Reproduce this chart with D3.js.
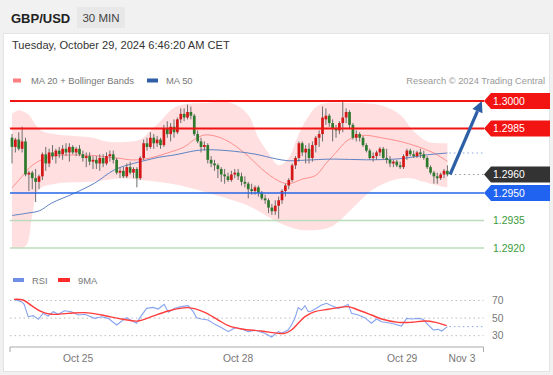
<!DOCTYPE html>
<html>
<head>
<meta charset="utf-8">
<script src="https://cdn.jsdelivr.net/npm/d3@7"></script>
<style>
  body { margin: 0; background: #f0f0f0; }
  svg { display: block; font-family: "Liberation Sans", Arial, sans-serif; }
</style>
</head>
<body>
<script>
// 30 min GBP/USD candles, [open, high, low, close]
const candles = [
  [1.2980,1.2982,1.2966,1.2975],[1.2975,1.2980,1.2972,1.2979],[1.2979,1.2983,1.2973,1.2974],[1.2974,1.2986,1.2972,1.2978],
  [1.2978,1.2980,1.2959,1.2960],[1.2960,1.2962,1.2951,1.2961],[1.2961,1.2962,1.2952,1.2958],[1.2958,1.2963,1.2945,1.2956],
  [1.2956,1.2960,1.2952,1.2959],[1.2959,1.2972,1.2957,1.2971],[1.2971,1.2975,1.2962,1.2966],[1.2966,1.2974,1.2964,1.2972],
  [1.2972,1.2976,1.2968,1.2970],[1.2970,1.2974,1.2966,1.2973],[1.2973,1.2975,1.2969,1.2971],[1.2971,1.2976,1.2968,1.2974],
  [1.2974,1.2977,1.2970,1.2972],[1.2972,1.2977,1.2967,1.2975],[1.2975,1.2976,1.2971,1.2972],[1.2972,1.2975,1.2970,1.2974],
  [1.2974,1.2976,1.2970,1.2971],[1.2971,1.2973,1.2967,1.2969],[1.2969,1.2972,1.2964,1.2970],[1.2970,1.2972,1.2965,1.2967],
  [1.2967,1.2970,1.2963,1.2968],[1.2968,1.2970,1.2963,1.2966],[1.2966,1.2971,1.2962,1.2969],[1.2969,1.2971,1.2964,1.2966],
  [1.2966,1.2972,1.2965,1.2970],[1.2970,1.2973,1.2967,1.2971],[1.2971,1.2973,1.2966,1.2968],[1.2968,1.2969,1.2960,1.2961],
  [1.2961,1.2964,1.2958,1.2962],[1.2962,1.2964,1.2958,1.2959],[1.2959,1.2966,1.2958,1.2964],[1.2964,1.2967,1.2960,1.2961],
  [1.2961,1.2964,1.2958,1.2963],[1.2963,1.2964,1.2953,1.2958],[1.2958,1.2970,1.2957,1.2969],[1.2969,1.2979,1.2968,1.2977],
  [1.2977,1.2980,1.2973,1.2975],[1.2975,1.2983,1.2974,1.2980],[1.2980,1.2982,1.2974,1.2977],[1.2977,1.2981,1.2975,1.2979],
  [1.2979,1.2980,1.2974,1.2976],[1.2976,1.2987,1.2975,1.2985],[1.2985,1.2989,1.2980,1.2982],[1.2982,1.2988,1.2978,1.2986],
  [1.2986,1.2990,1.2980,1.2983],[1.2983,1.2991,1.2982,1.2990],[1.2990,1.2996,1.2988,1.2993],[1.2993,1.2996,1.2989,1.2991],
  [1.2991,1.2998,1.2990,1.2994],[1.2994,1.2997,1.2990,1.2992],[1.2992,1.2993,1.2981,1.2982],[1.2982,1.2984,1.2977,1.2978],
  [1.2978,1.2980,1.2972,1.2975],[1.2975,1.2978,1.2973,1.2976],[1.2976,1.2977,1.2966,1.2968],[1.2968,1.2970,1.2964,1.2966],
  [1.2966,1.2968,1.2962,1.2965],[1.2965,1.2966,1.2958,1.2963],[1.2963,1.2964,1.2956,1.2960],[1.2960,1.2963,1.2955,1.2959],
  [1.2959,1.2961,1.2956,1.2957],[1.2957,1.2962,1.2956,1.2960],[1.2960,1.2963,1.2958,1.2961],[1.2961,1.2963,1.2957,1.2959],
  [1.2959,1.2961,1.2954,1.2956],[1.2956,1.2959,1.2953,1.2955],[1.2955,1.2956,1.2947,1.2952],[1.2952,1.2955,1.2949,1.2951],
  [1.2951,1.2954,1.2949,1.2953],[1.2953,1.2954,1.2948,1.2950],[1.2950,1.2951,1.2946,1.2947],[1.2947,1.2949,1.2944,1.2946],
  [1.2946,1.2947,1.2939,1.2942],[1.2942,1.2944,1.2938,1.2940],[1.2940,1.2946,1.2938,1.2943],[1.2943,1.2948,1.2936,1.2946],
  [1.2946,1.2952,1.2944,1.2951],[1.2951,1.2955,1.2948,1.2954],[1.2954,1.2958,1.2952,1.2957],[1.2957,1.2966,1.2956,1.2965],
  [1.2965,1.2970,1.2963,1.2969],[1.2969,1.2978,1.2967,1.2977],[1.2977,1.2978,1.2970,1.2972],[1.2972,1.2976,1.2966,1.2974],
  [1.2974,1.2977,1.2966,1.2969],[1.2969,1.2978,1.2967,1.2976],[1.2976,1.2981,1.2972,1.2980],[1.2980,1.2984,1.2975,1.2982],
  [1.2982,1.2997,1.2978,1.2991],[1.2990,1.2996,1.2987,1.2992],[1.2992,1.2993,1.2986,1.2988],[1.2988,1.2990,1.2978,1.2985],
  [1.2985,1.2987,1.2980,1.2984],[1.2984,1.2989,1.2982,1.2988],[1.2988,1.3000,1.2983,1.2991],[1.2991,1.2996,1.2988,1.2994],
  [1.2994,1.2995,1.2985,1.2987],[1.2987,1.2988,1.2979,1.2980],[1.2980,1.2984,1.2978,1.2982],[1.2982,1.2983,1.2978,1.2980],
  [1.2980,1.2981,1.2975,1.2976],[1.2976,1.2977,1.2972,1.2973],[1.2973,1.2974,1.2968,1.2969],[1.2969,1.2972,1.2967,1.2970],
  [1.2970,1.2973,1.2968,1.2972],[1.2972,1.2975,1.2970,1.2974],[1.2974,1.2975,1.2968,1.2969],[1.2969,1.2974,1.2966,1.2968],
  [1.2968,1.2970,1.2964,1.2966],[1.2966,1.2968,1.2964,1.2967],[1.2967,1.2968,1.2964,1.2965],[1.2965,1.2967,1.2963,1.2964],
  [1.2964,1.2971,1.2963,1.2970],[1.2970,1.2974,1.2968,1.2973],[1.2973,1.2974,1.2970,1.2971],[1.2971,1.2973,1.2969,1.2970],
  [1.2970,1.2973,1.2969,1.2972],[1.2972,1.2974,1.2969,1.2971],[1.2971,1.2973,1.2968,1.2969],[1.2969,1.2970,1.2963,1.2964],
  [1.2964,1.2965,1.2960,1.2961],[1.2961,1.2962,1.2955,1.2959],[1.2959,1.2961,1.2955,1.2958],[1.2958,1.2961,1.2957,1.2960],
  [1.2960,1.2963,1.2958,1.2962],[1.2962,1.2965,1.2959,1.2960]
]

// indicators, [candle index, value]
const ma20 = [[0,1.29527],[3,1.29590],[6,1.29650],[11,1.29695],[21,1.29706],[31,1.29690],[36,1.29679],[41,1.29690],
  [46,1.29717],[51,1.29750],[54,1.29790],[57,1.29815],[61,1.29805],[65,1.29770],[70,1.29700],[74,1.29630],[79,1.29565],
  [82,1.29550],[86,1.29575],[90,1.29595],[93,1.29660],[96,1.29720],[99,1.29780],[102,1.29807],[105,1.29813],[110,1.29798],
  [115,1.29780],[120,1.29753],[125,1.29717],[129,1.29671]]
const ma50 = [[0,1.29377],[4.7,1.29390],[8.2,1.29403],[11.7,1.29444],[18.6,1.29499],[24.5,1.29553],[30.4,1.29626],
  [36.3,1.29662],[40.3,1.29680],[43.3,1.29693],[48.3,1.29707],[54.2,1.29729],[58,1.29735],[66,1.29726],[72,1.29711],
  [78,1.29686],[81.8,1.29675],[86.8,1.29678],[95.2,1.29684],[105,1.29680],[115,1.29686],[123,1.29707],[129,1.29717]]
const bbUpper = [[0,1.29930],[2,1.29950],[5,1.29925],[7,1.29870],[9,1.29835],[14,1.29816],[24,1.29800],[28,1.29780],
  [33,1.29776],[38,1.29790],[41,1.29840],[44,1.29890],[47,1.29950],[50,1.29978],[57,1.29989],[65,1.29989],[70,1.29924],
  [73,1.29800],[76,1.29717],[79,1.29650],[82,1.29690],[84.5,1.29800],[87.5,1.29907],[91,1.29978],[99,1.29989],
  [109,1.29978],[115,1.29925],[119,1.29835],[123,1.29780],[127,1.29770],[129,1.29770]]
const bbLower = [[0,1.29200],[4,1.29210],[6,1.29380],[8,1.29520],[13,1.29550],[23,1.29560],[33,1.29580],[38,1.29570],
  [43,1.29560],[50,1.29540],[60,1.29490],[70,1.29430],[75,1.29380],[80,1.29330],[85,1.29300],[91,1.29300],[95,1.29320],
  [100,1.29400],[105,1.29490],[108,1.29530],[113,1.29570],[118,1.29580],[122,1.29560],[126,1.29540],[129,1.29530]]

const rsi = [[0.6,71.3],[2.8,68.7],[3.6,65.6],[4.8,51.6],[6.3,52.8],[7.8,48.6],[9.2,55.4],[10.7,52.4],[12.2,57.3],
  [13.7,54.3],[15.6,58.4],[17.6,57.3],[19.6,53.5],[21.6,54.3],[24.5,49.7],[26.5,51.6],[28.5,49.7],[31,42.2],[33.9,50.5],
  [36.9,44.1],[37.9,50.5],[39.9,61.1],[41.8,62.2],[43.3,60.3],[45.1,65.6],[46.3,56.6],[48.2,61.1],[50.2,63],[52.2,64.1],
  [53.7,57.3],[54.7,50.5],[56.1,49],[58.1,47.8],[60.1,42.9],[62.1,39.1],[64.1,34.6],[66.1,39.1],[68,37.6],[70,34.6],
  [72,36.1],[74.9,32.7],[76.9,28.5],[78.9,34.6],[79.9,32.7],[81.8,36.5],[82.8,42.2],[83.8,49.7],[84.8,61.9],[85.8,59.2],
  [86.8,64.1],[87.8,57.3],[88.7,58.1],[90.2,61.1],[91.7,64.9],[93.2,66.8],[94.7,64.1],[96.7,61.1],[98.1,63],[99.6,65.6],
  [100.6,55.4],[102.6,53.5],[104.5,50.5],[106.5,44.1],[108,49],[109.5,45.9],[112.4,44.1],[115.4,41],[116.9,49.7],
  [118.4,49],[120.4,49.7],[121.8,48.6],[123.3,42.2],[124.8,36.5],[126.3,37.2],[127.3,35.3],[129,40.3]]
const rsiMa = [[0.6,71.3],[3.3,70.6],[5.8,64.1],[8.7,57.3],[11.7,54.3],[16.6,55.4],[21.6,56.2],[26.5,53.5],[32.4,49],
  [37.4,46.7],[41.3,51.6],[46.3,58.1],[52.2,61.9],[57.1,56.6],[61.1,47.8],[64.1,41.4],[68,37.6],[73.9,35.3],[78.9,32.7],
  [80.8,32.7],[82.8,36.5],[84.8,44.1],[86.8,51.6],[89.7,57.3],[93.7,60],[99.6,63],[102.6,59.2],[106.5,53.5],[109.5,49],
  [114.4,45.2],[118.4,45.2],[122.3,46.7],[125.5,45.2],[128.8,41.4]]

// key levels from the analysis
const levels = [1.3000, 1.2985, 1.2960, 1.2950, 1.2935, 1.2920]
const levelKinds = ['res', 'res', 'last', 'sup', 'target', 'target']
const rsiTicks = [70, 50, 30]
const dateTicks = ['Oct 25', 'Oct 28', 'Oct 29', 'Nov 3']
const dateTickIdx = [19.6, 67, 115.6, 133.3]
// forecast arrow: from last candle to the 1.3000 target
const arrowFrom = [129.8, 1.2960]
const arrowTo = [139.2, 1.3000]

const W = 553, H = 375
const svg = d3.select('body').append('svg').attr('width', W).attr('height', H)

svg.append('rect').attr('width', W).attr('height', H).attr('fill', '#f1f1f1')
svg.append('rect').attr('x', 3.5).attr('y', 33.5).attr('width', 546).attr('height', 338)
  .attr('fill', '#fff').attr('stroke', '#e4e4e4')

/* header */
svg.append('text').attr('x', 11).attr('y', 22.5).text('GBP/USD')
  .attr('font-size', 13).attr('font-weight', 'bold').attr('fill', '#222')
svg.append('rect').attr('x', 77).attr('y', 7).attr('width', 48).attr('height', 21).attr('fill', '#e8e8e8')
svg.append('text').attr('x', 101).attr('y', 21.5).attr('text-anchor', 'middle').text('30 MIN')
  .attr('font-size', 11.5).attr('fill', '#444')
svg.append('text').attr('x', 12).attr('y', 48.5).text('Tuesday, October 29, 2024 6:46:20 AM CET')
  .attr('font-size', 11.1).attr('fill', '#333')

/* legends */
function legendItem (x, y, w, color, label) {
  svg.append('rect').attr('x', x).attr('y', y - 5.5).attr('width', w).attr('height', 4).attr('fill', color)
  svg.append('text').attr('x', x + w + 10 - (w > 9 ? 2 : 0)).attr('y', y).text(label)
    .attr('font-size', 9.4).attr('fill', '#777')
}
legendItem(13, 84, 8, '#ff7f7f', 'MA 20 + Bollinger Bands')
legendItem(147, 84, 11, '#2f5ea6', 'MA 50')
svg.append('text').attr('x', 545).attr('y', 84).attr('text-anchor', 'end')
  .text('Research \u00a9 2024 Trading Central').attr('font-size', 9.3).attr('fill', '#999')
legendItem(13, 283.5, 11, '#6f8fe6', 'RSI')
legendItem(58, 283.5, 12, '#ff2a2a', '9MA')

/* scales */
let x = d3.scaleLinear().domain([0, candles.length - 1]).range([12, 447.4])
let y = d3.scaleLinear().domain([1.2920, 1.3000]).range([248, 101])
let yR = d3.scaleLinear().domain([30, 70]).range([335.7, 300.5])
let plotLeft = 10, plotRight = 483.5

/* bollinger band */
let curveLine = d3.line().x(d => x(d[0])).y(d => y(d[1])).curve(d3.curveCatmullRom)
let upperPath = curveLine(bbUpper)
let lowerPath = curveLine(bbLower.slice().reverse())
svg.append('path').attr('d', upperPath + 'L' + lowerPath.slice(1) + 'Z').attr('fill', '#ffdfdf')

svg.append('path').attr('d', curveLine(ma20)).attr('fill', 'none').attr('stroke', '#ff8e8e').attr('stroke-width', 1)
svg.append('path').attr('d', curveLine(ma50)).attr('fill', 'none').attr('stroke', '#5f83c4').attr('stroke-width', 1)
let lastMa50 = ma50[ma50.length - 1]
svg.append('line').attr('x1', x(lastMa50[0]) + 2).attr('x2', plotRight)
  .attr('y1', y(lastMa50[1])).attr('y2', y(lastMa50[1]))
  .attr('stroke', '#8aa6dc').attr('stroke-dasharray', '1.5,3')

/* candles */
let bodyW = 2.7
let candleG = svg.append('g').selectAll('g').data(candles).enter().append('g')
candleG.append('line')
  .attr('x1', (d, i) => x(i)).attr('x2', (d, i) => x(i))
  .attr('y1', d => y(d[1])).attr('y2', d => y(d[2]))
  .attr('stroke', '#6e6e6e').attr('stroke-width', 1)
candleG.append('rect')
  .attr('x', (d, i) => x(i) - bodyW / 2).attr('width', bodyW)
  .attr('y', d => y(Math.max(d[0], d[3])))
  .attr('height', d => Math.max(1, Math.abs(y(d[0]) - y(d[3]))))
  .attr('fill', d => d[3] >= d[0] ? '#d41616' : '#2c7a2c')

/* key levels */
let levelStyle = {
  res: { color: '#f21313', width: 2, box: '#f21313', text: '#fff' },
  last: { color: '#9a9a9a', width: 1, box: '#333', text: '#fff', dash: '1.5,3' },
  sup: { color: '#2466e6', width: 1.5, box: '#1f63f0', text: '#fff' },
  target: { color: '#bcdcbc', width: 1.5, box: null, text: '#3a9a3a' }
}
levels.forEach((lv, i) => {
  let st = levelStyle[levelKinds[i]]
  let ly = y(lv)
  let x1 = levelKinds[i] === 'last' ? x(candles.length - 1) + 3 : plotLeft
  let ln = svg.append('line').attr('x1', x1).attr('x2', 484).attr('y1', ly).attr('y2', ly)
    .attr('stroke', st.color).attr('stroke-width', st.width)
  if (st.dash) ln.attr('stroke-dasharray', st.dash)
  if (st.box) {
    svg.append('path')
      .attr('d', `M484,${ly}L491,${ly - 8}L550,${ly - 8}L550,${ly + 8}L491,${ly + 8}Z`)
      .attr('fill', st.box)
  }
  svg.append('text').attr('x', 493).attr('y', ly + 3.8).text(d3.format('.4f')(lv))
    .attr('font-size', 10.4).attr('fill', st.text)
})

/* forecast arrow */
let x0 = x(arrowFrom[0]), y0 = y(arrowFrom[1]), x1 = x(arrowTo[0]), y1 = y(arrowTo[1])
let ang = Math.atan2(y1 - y0, x1 - x0)
let headLen = 11, headW = 5.5
let bx = x1 - headLen * Math.cos(ang), by = y1 - headLen * Math.sin(ang)
svg.append('line').attr('x1', x0).attr('y1', y0).attr('x2', bx).attr('y2', by)
  .attr('stroke', '#2d5fa6').attr('stroke-width', 3.2)
svg.append('path')
  .attr('d', `M${x1},${y1}L${bx + headW * Math.sin(ang)},${by - headW * Math.cos(ang)}L${bx - headW * Math.sin(ang)},${by + headW * Math.cos(ang)}Z`)
  .attr('fill', '#2d5fa6')

/* RSI panel */
rsiTicks.forEach(t => {
  svg.append('line').attr('x1', plotLeft).attr('x2', plotRight).attr('y1', yR(t)).attr('y2', yR(t))
    .attr('stroke', '#bdbdbd').attr('stroke-dasharray', '1.5,3')
  svg.append('text').attr('x', 492).attr('y', yR(t) + 3.7).text(t).attr('font-size', 10.3).attr('fill', '#777')
})
let rsiLine = d3.line().x(d => x(d[0])).y(d => yR(d[1]))
svg.append('path').attr('d', rsiLine(rsi)).attr('fill', 'none').attr('stroke', '#86a3ee').attr('stroke-width', 1.1)
svg.append('path').attr('d', rsiLine.curve(d3.curveCatmullRom)(rsiMa)).attr('fill', 'none')
  .attr('stroke', '#ff3d3d').attr('stroke-width', 1.4)
let lastRsi = rsi[rsi.length - 1]
svg.append('line').attr('x1', x(lastRsi[0]) + 2).attr('x2', plotRight)
  .attr('y1', yR(lastRsi[1])).attr('y2', yR(lastRsi[1]))
  .attr('stroke', '#86a3ee').attr('stroke-dasharray', '1.5,3')

/* time axis */
let axisY = 347
svg.append('path').attr('d', `M${plotLeft},${axisY + 5}V${axisY}H${plotRight}V${axisY + 5}`)
  .attr('fill', 'none').attr('stroke', '#aaa')
dateTicks.forEach((lab, i) => {
  svg.append('text').attr('x', x(dateTickIdx[i])).attr('y', 362).attr('text-anchor', 'middle')
    .text(lab).attr('font-size', 10.3).attr('fill', '#777')
})
</script>
</body>
</html>
